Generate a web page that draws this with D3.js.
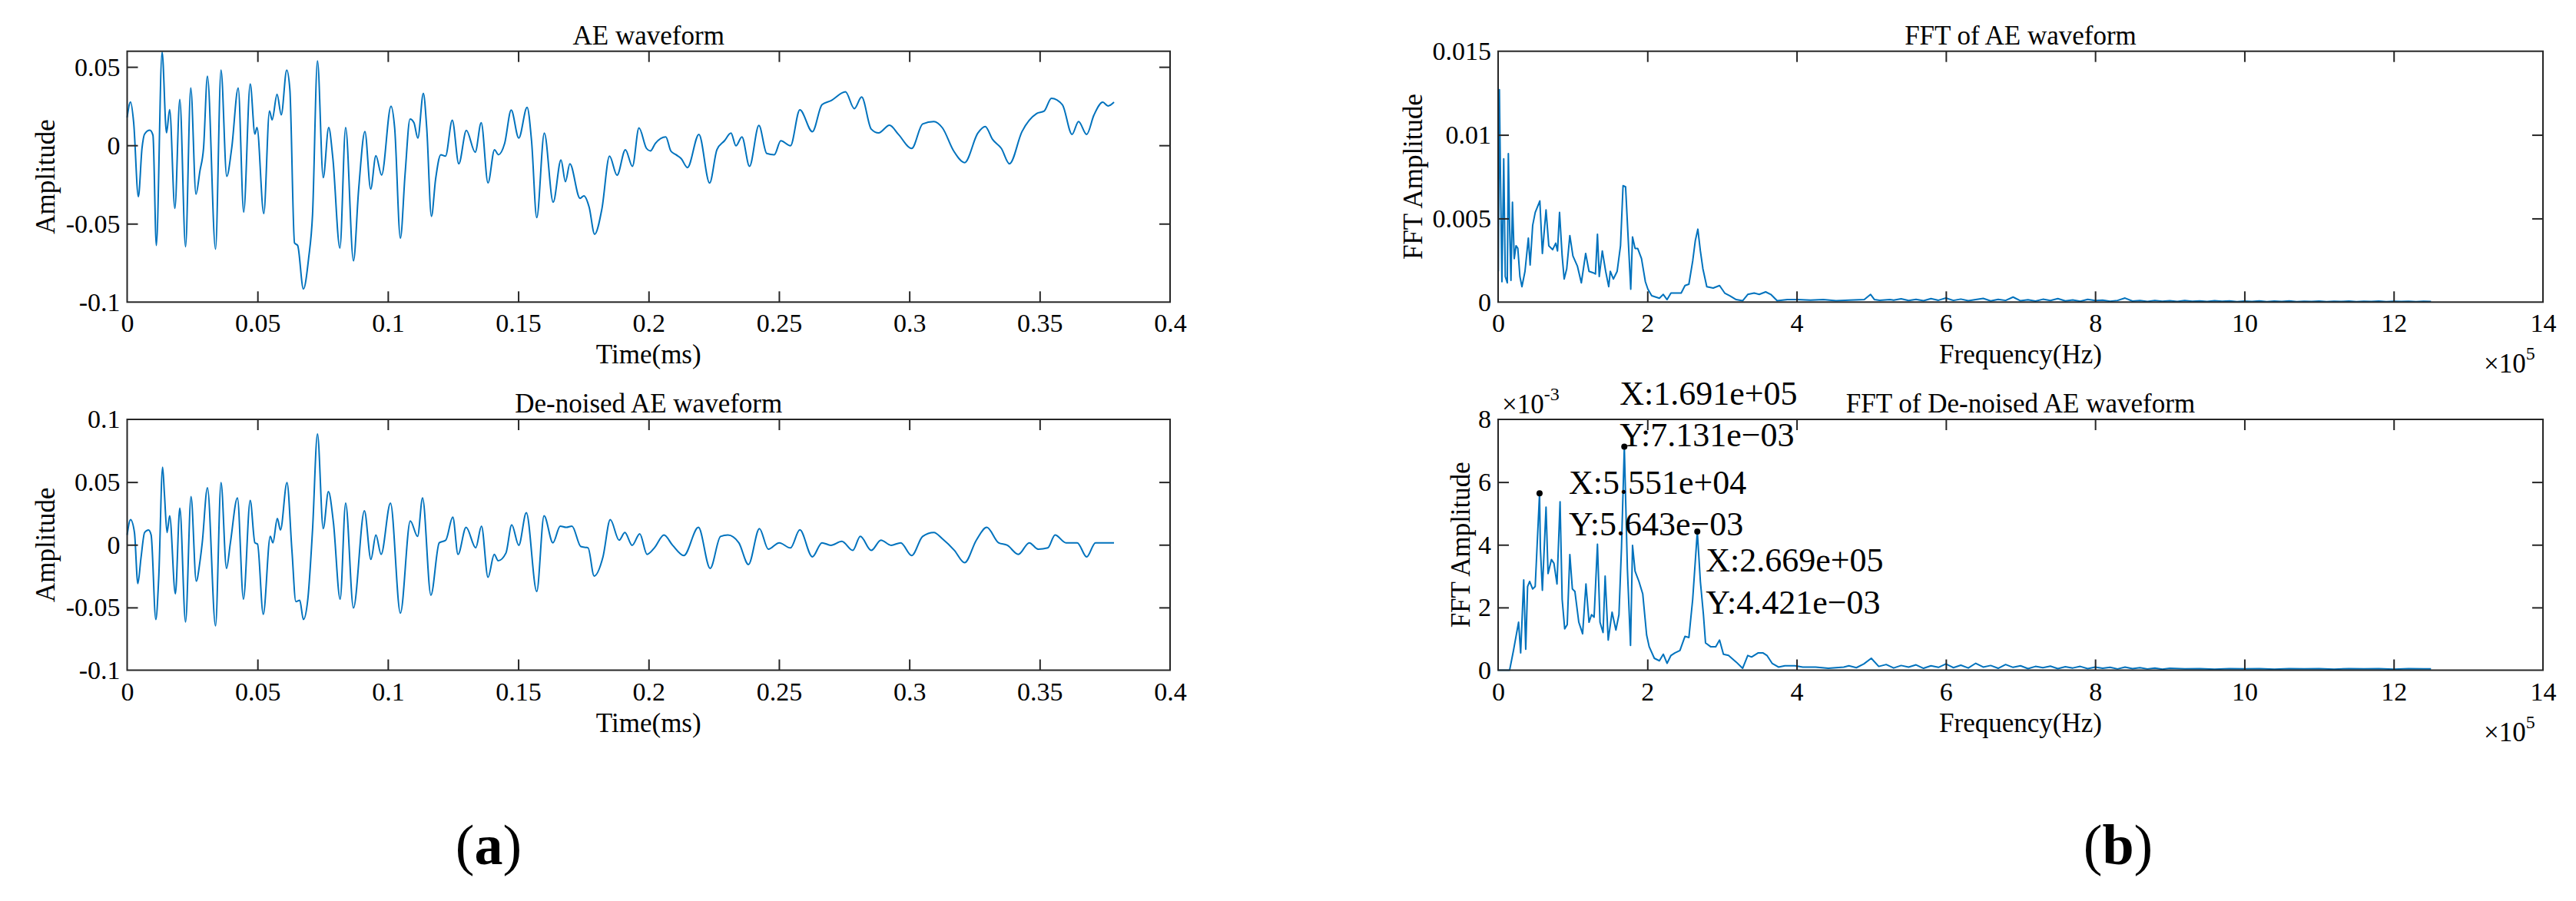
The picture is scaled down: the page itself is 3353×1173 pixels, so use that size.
<!DOCTYPE html>
<html>
<head>
<meta charset="utf-8">
<script src="https://cdn.jsdelivr.net/npm/d3@7"></script>
<style>
  html, body { margin: 0; padding: 0; background: #fff; }
  svg { display: block; }
  text { font-family: "Liberation Serif", "Times New Roman", serif; fill: #000; }
</style>
</head>
<body>
<svg id="chart" width="3353" height="1173"></svg>
<script>
// ---------------- DATA ----------------
// AE waveform: [time (ms), amplitude]
const aeWave = [
[0.0000,0.0178],[0.0013,0.0276],[0.0025,0.0145],[0.0043,-0.0328],[0.0057,-0.0018],[0.0067,0.0072],[0.0087,0.0096],[0.0099,0.0064],
[0.0112,-0.0639],[0.0134,0.0595],[0.0151,0.0080],[0.0163,0.0227],[0.0183,-0.0402],[0.0202,0.0292],[0.0224,-0.0647],[0.0244,0.0366],
[0.0264,-0.0312],[0.0279,-0.0165],[0.0293,-0.0018],[0.0308,0.0440],[0.0339,-0.0663],[0.0360,0.0480],[0.0382,-0.0198],[0.0401,-0.0018],
[0.0426,0.0366],[0.0447,-0.0426],[0.0472,0.0391],[0.0490,0.0072],[0.0498,0.0113],[0.0524,-0.0435],[0.0546,0.0219],[0.0556,0.0162],
[0.0575,0.0325],[0.0591,0.0194],[0.0612,0.0480],[0.0624,0.0358],[0.0642,-0.0623],[0.0654,-0.0639],[0.0676,-0.0917],[0.0696,-0.0721],
[0.0711,-0.0443],[0.0730,0.0538],[0.0752,-0.0206],[0.0773,0.0113],[0.0789,-0.0083],[0.0816,-0.0655],[0.0838,0.0113],[0.0868,-0.0737],
[0.0888,-0.0279],[0.0912,0.0088],[0.0934,-0.0279],[0.0954,-0.0067],[0.0976,-0.0190],
[0.1012,0.0250],[0.1026,0.0111],[0.1048,-0.0592],[0.1066,-0.0183],[0.1085,0.0168],[0.1100,0.0144],[0.1115,0.0046],[0.1136,0.0332],
[0.1149,0.0111],[0.1167,-0.0453],[0.1183,-0.0216],[0.1203,-0.0060],[0.1221,-0.0069],[0.1247,0.0160],[0.1272,-0.0118],[0.1301,0.0095],
[0.1335,-0.0044],[0.1358,0.0144],[0.1384,-0.0240],[0.1409,-0.0028],[0.1424,-0.0060],[0.1448,0.0013],[0.1473,0.0225],[0.1502,0.0046],
[0.1534,0.0242],[0.1551,0.0029],[0.1571,-0.0461],[0.1600,0.0078],[0.1634,-0.0363],[0.1664,-0.0093],[0.1681,-0.0232],[0.1698,-0.0118],
[0.1737,-0.0338],[0.1752,-0.0322],[0.1772,-0.0395],[0.1793,-0.0567],[0.1821,-0.0404],[0.1850,-0.0069],[0.1879,-0.0191],[0.1911,-0.0028],
[0.1938,-0.0134],[0.1963,0.0111],[0.1992,-0.0020],[0.2007,-0.0036],[0.2026,0.0013],[0.2066,0.0054],[0.2085,-0.0036],[0.2105,-0.0060],
[0.2125,-0.0085],[0.2149,-0.0142],[0.2193,0.0070],[0.2234,-0.0240],[0.2262,-0.0028],[0.2291,0.0029],[0.2316,0.0078],[0.2335,-0.0003],
[0.2358,0.0054],[0.2387,-0.0134],[0.2423,0.0127],[0.2453,-0.0052],[0.2482,-0.0060],[0.2507,0.0029],
[0.2544,-0.0003],[0.2580,0.0226],[0.2628,0.0087],[0.2665,0.0259],[0.2699,0.0284],[0.2755,0.0341],[0.2789,0.0234],[0.2817,0.0308],
[0.2854,0.0103],[0.2882,0.0079],[0.2924,0.0128],[0.2958,0.0070],[0.3009,-0.0020],[0.3051,0.0136],[0.3094,0.0152],[0.3127,0.0111],
[0.3170,-0.0036],[0.3212,-0.0110],[0.3263,0.0079],[0.3291,0.0120],[0.3319,0.0038],[0.3353,-0.0020],[0.3384,-0.0118],[0.3432,0.0087],
[0.3488,0.0202],[0.3517,0.0218],[0.3545,0.0300],[0.3587,0.0259],[0.3624,0.0070],[0.3649,0.0152],[0.3680,0.0070],[0.3708,0.0193],
[0.3742,0.0275],[0.3762,0.0251],[0.3785,0.0275]
];

// De-noised AE waveform: [time (ms), amplitude]
const denoisedWave = [
[0.0000,0.0078],[0.0013,0.0200],[0.0028,0.0098],[0.0041,-0.0310],[0.0053,-0.0106],[0.0067,0.0098],[0.0082,0.0118],[0.0092,0.0078],
[0.0110,-0.0596],[0.0121,-0.0269],[0.0136,0.0618],[0.0143,0.0404],[0.0153,0.0098],[0.0163,0.0231],[0.0185,-0.0392],[0.0202,0.0292],
[0.0224,-0.0616],[0.0245,0.0384],[0.0265,-0.0290],[0.0279,-0.0137],[0.0288,0.0016],[0.0308,0.0455],[0.0339,-0.0647],[0.0360,0.0496],
[0.0381,-0.0188],[0.0396,0.0016],[0.0423,0.0373],[0.0446,-0.0433],[0.0472,0.0353],[0.0490,0.0016],[0.0500,0.0006],[0.0522,-0.0555],
[0.0549,0.0067],[0.0559,0.0016],[0.0576,0.0210],[0.0588,0.0118],[0.0613,0.0496],[0.0632,-0.0045],[0.0647,-0.0453],[0.0662,-0.0443],
[0.0676,-0.0596],[0.0693,-0.0433],[0.0711,0.0118],[0.0730,0.0884],[0.0752,0.0129],[0.0772,0.0424],[0.0791,0.0180],[0.0817,-0.0433],
[0.0838,0.0333],[0.0868,-0.0504],[0.0910,0.0271],[0.0935,-0.0116],[0.0954,0.0078],[0.0974,-0.0076],[0.1010,0.0333],[0.1048,-0.0545],
[0.1086,0.0190],[0.1114,0.0067],[0.1133,0.0373],[0.1165,-0.0402],[0.1197,0.0016],[0.1222,0.0037],[0.1249,0.0220],[0.1269,-0.0076],
[0.1300,0.0139],[0.1337,-0.0024],[0.1359,0.0149],[0.1384,-0.0259],[0.1408,-0.0076],[0.1423,-0.0127],[0.1453,-0.0065],[0.1475,0.0159],
[0.1502,-0.0004],[0.1531,0.0256],[0.1571,-0.0372],[0.1599,0.0231],[0.1633,0.0016],[0.1661,0.0149],[0.1684,0.0139],[0.1706,0.0149],
[0.1740,-0.0014],[0.1768,-0.0025],[0.1791,-0.0249],[0.1825,-0.0096],[0.1853,0.0200],[0.1887,0.0037],[0.1909,0.0098],[0.1937,-0.0004],
[0.1966,0.0088],[0.1994,-0.0076],[0.2022,-0.0025],[0.2059,0.0078],[0.2092,-0.0004],[0.2135,-0.0086],[0.2191,0.0139],[0.2236,-0.0188],
[0.2276,0.0067],[0.2304,0.0078],[0.2346,0.0016],[0.2383,-0.0157],[0.2425,0.0129],[0.2459,-0.0035],[0.2501,0.0016],[0.2544,-0.0025],
[0.2580,0.0119],[0.2628,-0.0096],[0.2665,0.0016],[0.2699,-0.0004],[0.2741,0.0027],[0.2783,-0.0045],[0.2812,0.0067],[0.2854,-0.0045],
[0.2891,0.0037],[0.2930,-0.0004],[0.2967,0.0016],[0.3009,-0.0086],[0.3051,0.0067],[0.3094,0.0098],[0.3127,0.0047],[0.3173,-0.0045],
[0.3212,-0.0143],[0.3257,0.0037],[0.3297,0.0139],[0.3342,0.0016],[0.3376,-0.0004],[0.3418,-0.0076],[0.3460,0.0016],[0.3494,-0.0035],
[0.3531,-0.0025],[0.3559,0.0078],[0.3601,0.0016],[0.3644,0.0016],[0.3680,-0.0096],[0.3714,0.0016],[0.3742,0.0016],[0.3785,0.0016]
];

// FFT of AE waveform: [frequency (Hz), FFT amplitude]
const fftWave = [
[300,0.00184],[1700,0.01270],[3400,0.00673],[5100,0.00122],[7500,0.00857],[9600,0.00153],[12300,0.00115],[13700,0.00888],
[15400,0.00459],[17200,0.00130],[19200,0.00597],[21600,0.00260],[24000,0.00337],[26400,0.00321],[29200,0.00153],[31900,0.00092],
[36000,0.00184],[40500,0.00383],[42900,0.00222],[46300,0.00459],[49700,0.00536],[55900,0.00605],[59300,0.00291],[64200,0.00551],
[67900,0.00337],[73100,0.00314],[77200,0.00352],[79600,0.00306],[82300,0.00536],[85800,0.00276],[88500,0.00138],[91900,0.00199],
[96100,0.00398],[100200,0.00276],[106300,0.00214],[111500,0.00115],[117300,0.00291],[121800,0.00184],[126900,0.00176],[130400,0.00168],
[133100,0.00406],[135500,0.00153],[139600,0.00306],[144100,0.00184],[148200,0.00092],[150300,0.00184],[154400,0.00138],[159500,0.00184],
[164000,0.00337],[167400,0.00696],[170800,0.00689],[173900,0.00413],[177700,0.00077],[180100,0.00390],[183500,0.00321],[187000,0.00321],
[192100,0.00260],[197300,0.00122],[200700,0.00077],[205800,0.00038],[216100,0.00023],[221300,0.00046],[226400,0.00015],[231600,0.00054],
[238400,0.00054],[245300,0.00054],[250400,0.00099],[255600,0.00107],[260700,0.00245],[264200,0.00367],[267600,0.00436],[271000,0.00306],
[274400,0.00199],[279600,0.00092],[288200,0.00084],[296700,0.00099],[303600,0.00054],[310500,0.00038],[319000,0.00015],[327600,0.00008],
[334500,0.00046],[343100,0.00054],[349900,0.00046],[358500,0.00061],[365400,0.00046],[373900,0.00008],[387700,0.00015],[401400,0.00015],
[418500,0.00012],[435700,0.00015],[452800,0.00008],[470000,0.00012],[490600,0.00015],[499100,0.00046],[504300,0.00015],[511200,0.00011],
[524900,0.00015],[530000,0.00012],[540000,0.00020],[550000,0.00009],[560000,0.00016],[570000,0.00008],[580000,0.00021],[590000,0.00011],
[600000,0.00024],[610000,0.00010],[620000,0.00018],[630000,0.00008],[640000,0.00015],[650000,0.00022],[660000,0.00007],[670000,0.00016],
[680000,0.00010],[690000,0.00030],[700000,0.00008],[710000,0.00014],[720000,0.00006],[730000,0.00017],[740000,0.00009],[750000,0.00021],
[760000,0.00007],[770000,0.00013],[780000,0.00005],[790000,0.00016],[800000,0.00009],[810000,0.00012],[820000,0.00005],[830000,0.00010],
[840000,0.00024],[850000,0.00006],[860000,0.00009],[870000,0.00004],[880000,0.00010],[890000,0.00005],[900000,0.00008],[910000,0.00004],
[920000,0.00009],[930000,0.00005],[940000,0.00007],[950000,0.00004],[960000,0.00008],[970000,0.00005],[980000,0.00007],[990000,0.00003],
[1000000,0.00006],[1010000,0.00004],[1020000,0.00007],[1030000,0.00003],[1040000,0.00006],[1050000,0.00004],[1060000,0.00007],[1070000,0.00003],
[1080000,0.00005],[1090000,0.00004],[1100000,0.00006],[1110000,0.00003],[1120000,0.00005],[1130000,0.00004],[1140000,0.00006],[1150000,0.00003],
[1160000,0.00005],[1170000,0.00004],[1180000,0.00006],[1190000,0.00003],[1200000,0.00005],[1210000,0.00004],[1220000,0.00005],[1230000,0.00003],
[1240000,0.00005],[1250000,0.00004]
];

// FFT of de-noised AE waveform: [frequency (Hz), FFT amplitude]
const fftDenoised = [
[0,0],[15400,0],[20600,0.00063],[27400,0.00153],[30200,0.00055],[34300,0.00288],[37000,0.00067],[39500,0.00267],
[42200,0.00283],[46300,0.00259],[49700,0.00267],[55510,0.005643],[56600,0.00390],[59300,0.00255],[64200,0.00520],[66900,0.00308],
[71400,0.00353],[74800,0.00341],[78900,0.00275],[83000,0.00537],[85800,0.00226],[89200,0.00132],[92600,0.00145],[96100,0.00369],
[99500,0.00259],[102900,0.00251],[108100,0.00153],[113200,0.00116],[117700,0.00275],[121800,0.00153],[125200,0.00177],[128600,0.00169],
[133100,0.00402],[136500,0.00153],[140600,0.00120],[143400,0.00300],[147500,0.00096],[152700,0.00185],[157800,0.00128],[161900,0.00177],
[165300,0.00390],[169100,0.007131],[173200,0.00324],[177400,0.00079],[180100,0.00398],[183500,0.00316],[188700,0.00283],[193800,0.00243],
[199000,0.00112],[202400,0.00075],[209300,0.00038],[216100,0.00030],[221300,0.00051],[226400,0.00022],[231600,0.00047],[236700,0.00055],
[243600,0.00063],[250400,0.00108],[255600,0.00104],[260700,0.00226],[266900,0.004421],[271000,0.00283],[275100,0.00177],[277900,0.00087],
[284700,0.00075],[291600,0.00075],[296700,0.00096],[301900,0.00051],[308700,0.00047],[319000,0.00026],[327600,0.00006],[334500,0.00047],
[339600,0.00042],[348200,0.00055],[355100,0.00055],[360200,0.00047],[367100,0.00022],[375600,0.00010],[384200,0.00014],[397900,0.00014],
[408200,0.00010],[425400,0.00010],[442500,0.00006],[463100,0.00010],[470000,0.00014],[480000,0.00008],[490000,0.00020],[500000,0.00038],
[510000,0.00012],[520000,0.00018],[530000,0.00007],[540000,0.00015],[550000,0.00010],[560000,0.00017],[570000,0.00006],[580000,0.00014],
[590000,0.00009],[600000,0.00020],[610000,0.00008],[620000,0.00016],[630000,0.00007],[640000,0.00022],[650000,0.00010],[660000,0.00015],
[670000,0.00006],[680000,0.00018],[690000,0.00009],[700000,0.00014],[710000,0.00005],[720000,0.00012],[730000,0.00008],[740000,0.00013],
[750000,0.00005],[760000,0.00011],[770000,0.00007],[780000,0.00012],[790000,0.00005],[800000,0.00010],[810000,0.00006],[820000,0.00009],
[830000,0.00004],[840000,0.00010],[850000,0.00005],[860000,0.00008],[870000,0.00004],[880000,0.00007],[890000,0.00003],[900000,0.00006],
[920000,0.00004],[940000,0.00005],[960000,0.00003],[980000,0.00005],[1000000,0.00004],[1020000,0.00005],[1040000,0.00003],[1060000,0.00005],
[1080000,0.00004],[1100000,0.00005],[1120000,0.00003],[1140000,0.00005],[1160000,0.00004],[1180000,0.00005],[1200000,0.00003],[1220000,0.00005],
[1240000,0.00004],[1250000,0.00004]
];

// Data tips (marked peaks): [frequency (Hz), FFT amplitude]
const peakTips = [[55510,0.005643],[169100,0.007131],[266900,0.004421]];

// Tick values / labels
const timeTicks = [0,0.05,0.1,0.15,0.2,0.25,0.3,0.35,0.4];
const timeTickLabels = ["0","0.05","0.1","0.15","0.2","0.25","0.3","0.35","0.4"];
const aeTicks = [-0.1,-0.05,0,0.05];
const aeTickLabels = ["-0.1","-0.05","0","0.05"];
const dnTicks = [-0.1,-0.05,0,0.05,0.1];
const dnTickLabels = ["-0.1","-0.05","0","0.05","0.1"];
const freqTicks = [0,200000,400000,600000,800000,1000000,1200000,1400000];
const freqTickLabels = ["0","2","4","6","8","10","12","14"];
const fftTicks = [0,0.005,0.01,0.015];
const fftTickLabels = ["0","0.005","0.01","0.015"];
const fftDnTicks = [0,0.002,0.004,0.006,0.008];
const fftDnTickLabels = ["0","2","4","6","8"];

// ---------------- DRAWING ----------------
const svg = d3.select("#chart");
const AX = "#262626", LINE = "#0072BD";
const TICK_FONT = 34, LABEL_FONT = 35, TICK_LEN = 14;
const SERIF = '"Liberation Serif", "Times New Roman", serif';

function panel(o) {
  const x = d3.scaleLinear().domain(o.xDomain).range([o.x0, o.x1]);
  const y = d3.scaleLinear().domain(o.yDomain).range([o.y1, o.y0]);
  const g = svg.append("g");

  const line = d3.line().x(d => x(d[0])).y(d => y(d[1])).curve(o.curve);
  g.append("path").datum(o.data).attr("d", line)
    .attr("fill", "none").attr("stroke", LINE).attr("stroke-width", 2)
    .attr("stroke-linejoin", "round");

  const fmt = (labels, ticks) => (v => labels[ticks.indexOf(v)]);

  const bx = g.append("g").attr("transform", `translate(0,${o.y1})`)
    .call(d3.axisBottom(x).tickValues(o.xTicks).tickFormat(fmt(o.xLabels, o.xTicks))
      .tickSizeInner(-TICK_LEN).tickSizeOuter(0).tickPadding(15));
  const tx = g.append("g").attr("transform", `translate(0,${o.y0})`)
    .call(d3.axisTop(x).tickValues(o.xTicks).tickFormat("").tickSizeInner(-TICK_LEN).tickSizeOuter(0));
  const ly = g.append("g").attr("transform", `translate(${o.x0},0)`)
    .call(d3.axisLeft(y).tickValues(o.yTicks).tickFormat(fmt(o.yLabels, o.yTicks))
      .tickSizeInner(-TICK_LEN).tickSizeOuter(0).tickPadding(9));
  const ry = g.append("g").attr("transform", `translate(${o.x1},0)`)
    .call(d3.axisRight(y).tickValues(o.yTicks).tickFormat("").tickSizeInner(-TICK_LEN).tickSizeOuter(0));

  [bx, tx, ly, ry].forEach(a => {
    a.attr("font-family", SERIF);
    a.select(".domain").remove();
    a.selectAll(".tick line").attr("stroke", AX).attr("stroke-width", 2);
    a.selectAll(".tick text").attr("font-size", TICK_FONT).attr("font-family", SERIF).attr("fill", "#000");
  });
  [bx, tx].forEach(a => a.selectAll(".tick line").filter(v => v === o.xDomain[0] || v === o.xDomain[1]).remove());
  [ly, ry].forEach(a => a.selectAll(".tick line").filter(v => v === o.yDomain[0] || v === o.yDomain[1]).remove());

  g.append("rect").attr("x", o.x0).attr("y", o.y0).attr("width", o.x1 - o.x0).attr("height", o.y1 - o.y0)
    .attr("fill", "none").attr("stroke", AX).attr("stroke-width", 2);

  g.append("text").attr("x", (o.x0 + o.x1) / 2).attr("y", o.y0 - 9)
    .attr("text-anchor", "middle").attr("font-size", LABEL_FONT).text(o.title);
  g.append("text").attr("x", (o.x0 + o.x1) / 2).attr("y", o.y1 + 80)
    .attr("text-anchor", "middle").attr("font-size", LABEL_FONT).text(o.xTitle);
  g.append("text").attr("transform", `translate(${o.yTitleX},${(o.y0 + o.y1) / 2}) rotate(-90)`)
    .attr("text-anchor", "middle").attr("font-size", LABEL_FONT).text(o.yTitle);

  return { x, y, g };
}

const L = { x0: 165.5, x1: 1523 }, R = { x0: 1950, x1: 3310 };
const T = { y0: 66.7, y1: 393.3 }, B = { y0: 546, y1: 872.5 };

panel({ ...L, ...T, xDomain: [0, 0.4], yDomain: [-0.1, 0.06], xTicks: timeTicks, xLabels: timeTickLabels,
  yTicks: aeTicks, yLabels: aeTickLabels, title: "AE waveform", xTitle: "Time(ms)", yTitle: "Amplitude",
  yTitleX: 71, data: aeWave, curve: d3.curveMonotoneX });

panel({ ...L, ...B, xDomain: [0, 0.4], yDomain: [-0.1, 0.1], xTicks: timeTicks, xLabels: timeTickLabels,
  yTicks: dnTicks, yLabels: dnTickLabels, title: "De-noised AE waveform", xTitle: "Time(ms)", yTitle: "Amplitude",
  yTitleX: 71, data: denoisedWave, curve: d3.curveMonotoneX });

panel({ ...R, ...T, xDomain: [0, 1400000], yDomain: [0, 0.015], xTicks: freqTicks, xLabels: freqTickLabels,
  yTicks: fftTicks, yLabels: fftTickLabels, title: "FFT of AE waveform", xTitle: "Frequency(Hz)", yTitle: "FFT Amplitude",
  yTitleX: 1851, data: fftWave, curve: d3.curveLinear });

const pB = panel({ ...R, ...B, xDomain: [0, 1400000], yDomain: [0, 0.008], xTicks: freqTicks, xLabels: freqTickLabels,
  yTicks: fftDnTicks, yLabels: fftDnTickLabels, title: "FFT of De-noised AE waveform", xTitle: "Frequency(Hz)", yTitle: "FFT Amplitude",
  yTitleX: 1913, data: fftDenoised, curve: d3.curveLinear });

function expLabel(x, y, exp) {
  const t = svg.append("text").attr("x", x).attr("y", y).attr("font-size", LABEL_FONT);
  t.append("tspan").text("\u00d710");
  t.append("tspan").attr("dy", -17).attr("font-size", 24).text(exp);
}
expLabel(3233, T.y1 + 92, "5");
expLabel(3233, B.y1 + 92, "5");
expLabel(1955, B.y0 - 8, "-3");

function sci(v) {
  const e = Math.floor(Math.log10(Math.abs(v)));
  const m = v / Math.pow(10, e);
  return m.toFixed(3) + "e" + (e < 0 ? "\u2212" : "+") + String(Math.abs(e)).padStart(2, "0");
}
const tipOffsets = [[38, 1, 55], [-6, -54, 0], [11, 52, 107]];
peakTips.forEach((p, i) => {
  const cx = pB.x(p[0]), cy = pB.y(p[1]);
  const [dx, dy1, dy2] = tipOffsets[i];
  svg.append("text").attr("x", cx + dx).attr("y", cy + dy1).attr("font-size", 44).text("X:" + sci(p[0]));
  svg.append("text").attr("x", cx + dx).attr("y", cy + dy2).attr("font-size", 44).text("Y:" + sci(p[1]));
  svg.append("circle").attr("cx", cx).attr("cy", cy).attr("r", 4).attr("fill", "#000");
});

function caption(x, letter) {
  const t = svg.append("text").attr("x", x).attr("y", 1125).attr("text-anchor", "middle").attr("font-size", 74);
  t.append("tspan").text("(");
  t.append("tspan").attr("font-weight", "bold").text(letter);
  t.append("tspan").text(")");
}
caption(636, "a");
caption(2757, "b");
</script>
</body>
</html>
